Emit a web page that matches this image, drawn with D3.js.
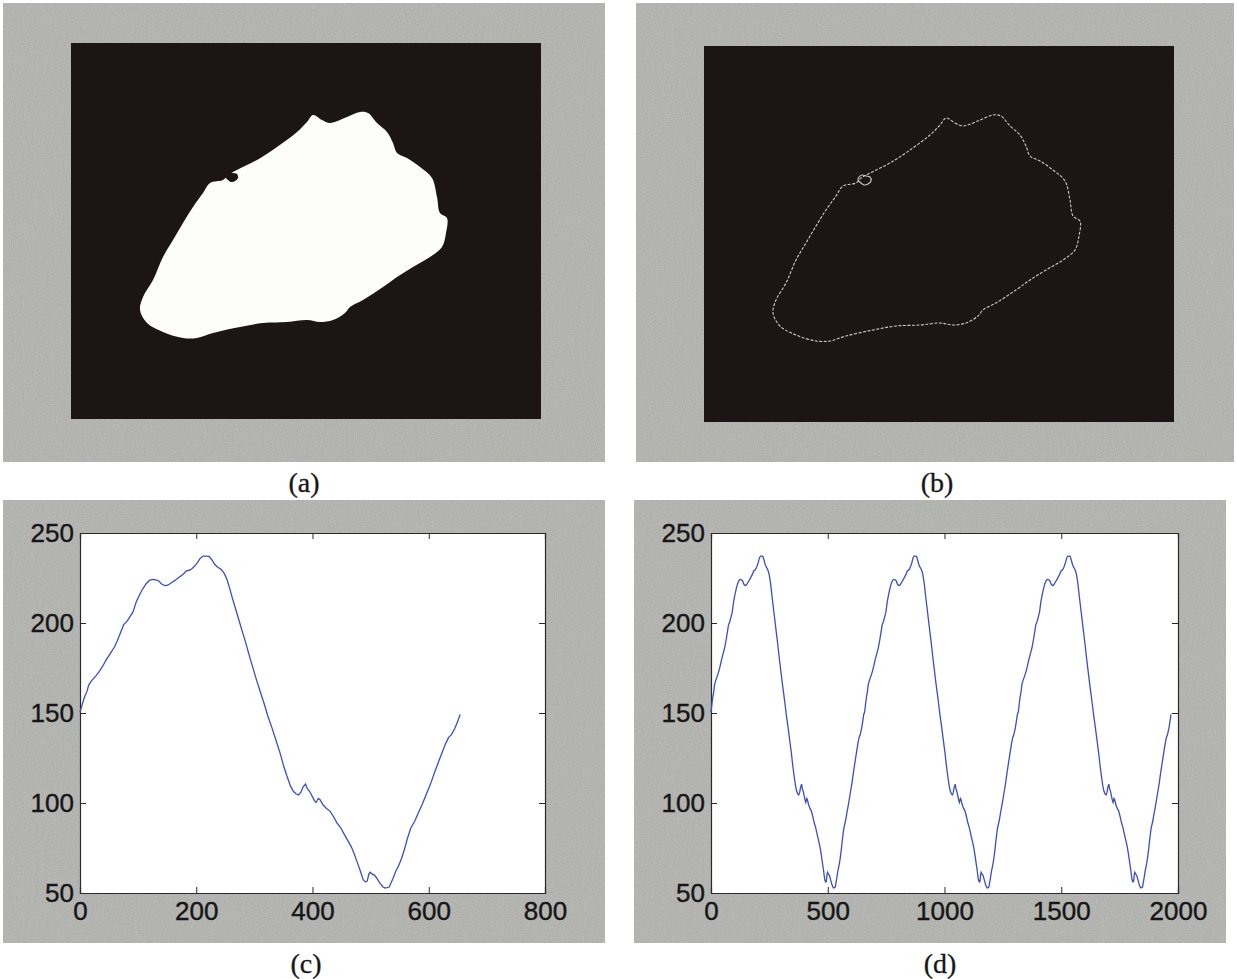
<!doctype html>
<html lang="en">
<head>
<meta charset="utf-8">
<title>Contour and centroid distance signature</title>
<script src="https://cdn.jsdelivr.net/npm/d3@7"></script>
<style>
	body{
		margin:0px;
		padding:0px;
		background:#fff;
	}
	.tick text{
		font-family:"Liberation Sans", Arial, sans-serif;
		font-size:26px;
		fill:#161616;
		stroke:#161616;
		stroke-width:0.4px;
	}
	.caption{
		font-family:"Liberation Serif", "Times New Roman", serif;
		font-size:28px;
		fill:#161616;
		stroke:#161616;
		stroke-width:0.3px;
	}
</style>
</head>
<body>
<svg id="fig"></svg>
<script>
// boundary of the segmented object, pixel coords inside the 470x376 image
var contourX = [242,251,259,276,289,297,306,316,322,326,336,349,361,366,369,376,375,371,359,342,326,312,292,279,274,262,249,236,216,192,169,142,126,112,92,76,69,72,82,92,102,112,122,132,139,152,157,166,186,206,226,236];
var contourY = [72,77,80,74,69,70,80,89,100,110,115,124,135,154,170,175,190,204,214,224,234,244,257,264,270,277,279,277,279,280,284,290,295,295,289,280,267,254,237,214,197,180,164,150,140,137,132,127,117,104,89,79];
// small hole near the upper left edge
var holeX = [155,158,162,166,167,164,160,157,154];
var holeY = [131,129,130,131,135,138,139,137,134];

// centroid distance signature (contour index -> distance)
var sigIdx = [0,4,8,12,15,20,27,33,39,45,52,59,64,69,75,81,86,91,97,103,108,114,120,126,130,135,141,146,151,158,164,171,177,183,188,192,197,202,207,212,216,222,227,232,237,242,246,249,253,256,262,268,274,280,286,292,298,304,311,317,323,330,338,344,350,356,362,367,372,376,380,384,388,391,395,399,403,406,410,413,418,424,430,436,442,448,454,460,467,472,477,482,487,491,494,497,499,503,507,511,516,521,525,528,532,535,539,543,548,553,558,563,569,576,582,589,596,603,610,617,623,629,634,639,645,650,654];
var sigVal = [150.5,155,159,162,165.5,168,170.5,173,176,179.5,183,186.5,190,194,199,201,203.5,206,212,216,219,222,223.8,224.2,224,223.5,221.5,220.8,221,222.5,223.8,225.5,227,229,229.3,230,231.5,233.5,236,237.2,237.2,237,235,232.5,231,230,228.5,227,224,221,214,207.5,201,194.5,188,181,174.5,168,161,155,148.5,142,134,128,121,115,109.5,106.5,105,104.5,106,109,110.5,108,106.5,104,101.5,100.3,102.5,101.8,99,97,95.5,92.5,89,86.5,83,79.5,75.5,71.5,67,62.5,57.5,56.2,56.5,60.5,61.5,60.5,59.8,58,55.5,53.5,52.8,53,53.3,55.5,58.5,62,65,69,74,80,86,90,94.5,99.5,105,110.5,117,123,128,133,136.3,138,141.5,145.5,149.2];
var signatureLength = 658;
var copies = 3;

var xTicksC = [0,200,400,600,800];
var xTicksD = [0,500,1000,1500,2000];
var yTicks = [50,100,150,200,250];
var captions = ["(a)","(b)","(c)","(d)"];

var W = 1237, H = 979;
var grey = "#a9aaa6", dark = "#1b1615", lineBlue = "#3c4ec2";

var svg = d3.select("#fig").attr("width",W).attr("height",H);
svg.append("rect").attr("width",W).attr("height",H).attr("fill","#fff");

// grainy scan look for the grey frames
var defs = svg.append("defs");
var grain = defs.append("filter").attr("id","grain").attr("x",0).attr("y",0).attr("width",1).attr("height",1);
grain.append("feTurbulence").attr("type","fractalNoise").attr("baseFrequency",0.9).attr("numOctaves",2).attr("seed",3).attr("result","noise");
grain.append("feColorMatrix").attr("in","noise").attr("type","matrix")
	.attr("values","0 0 0 0 0.62  0 0 0 0 0.63  0 0 0 0 0.61  0.35 0.35 0.35 0 -0.28").attr("result","tint");
grain.append("feComposite").attr("in","tint").attr("in2","SourceGraphic").attr("operator","atop");

// panel frames
var frames = [
	{x:3,y:3,w:602,h:459},
	{x:636,y:3,w:598,h:459},
	{x:3,y:500,w:602,h:443},
	{x:634,y:500,w:592,h:443}
];
frames.forEach(function(f){
	svg.append("rect").attr("x",f.x).attr("y",f.y).attr("width",f.w).attr("height",f.h).attr("fill",grey).attr("filter","url(#grain)");
});

//image panels (a) and (b)
function imagePanel(left,top,filled){
	var g = svg.append("g");
	var sx = d3.scaleLinear().domain([0,470]).range([left,left+470]);
	var sy = d3.scaleLinear().domain([0,376]).range([top,top+376]);
	g.append("rect").attr("x",sx(0)).attr("y",sy(0)).attr("width",sx(470)-sx(0)).attr("height",sy(376)-sy(0)).attr("fill",dark);
	var pts = contourX.map(function(d,i){return [d,contourY[i]];});
	var hole = holeX.map(function(d,i){return [d,holeY[i]];});
	var line = d3.line().x(function(d){return sx(d[0]);}).y(function(d){return sy(d[1]);}).curve(d3.curveCatmullRomClosed.alpha(0.5));
	if(filled){
		g.append("path").attr("d",line(pts)).attr("fill","#fdfdfb");
		g.append("path").attr("d",line(hole)).attr("fill",dark);
	}else{
		g.append("path").attr("d",line(pts)).attr("fill","none").attr("stroke","#c9cac2").attr("stroke-width",1.1).attr("stroke-dasharray","3,1.5");
		g.append("path").attr("d",line(hole)).attr("fill","none").attr("stroke","#c9cac2").attr("stroke-width",1.1);
	}
}
imagePanel(71,43,true);
imagePanel(704,46,false);

//signature plots (c) and (d)
function plotPanel(left,right,top,bottom,xmax,xticks,xs,ys){
	var g = svg.append("g");
	var x = d3.scaleLinear().domain([0,xmax]).range([left,right]);
	var y = d3.scaleLinear().domain([50,250]).range([bottom,top]);
	g.append("rect").attr("x",left).attr("y",top).attr("width",right-left).attr("height",bottom-top).attr("fill","#fff");

	g.append("g").attr("transform","translate(0,"+bottom+")")
		.call(d3.axisBottom(x).tickValues(xticks).tickFormat(d3.format("d")).tickSize(-6).tickPadding(9));
	g.append("g").attr("transform","translate(0,"+top+")")
		.call(d3.axisTop(x).tickValues(xticks).tickSize(-6).tickFormat(""));
	g.append("g").attr("transform","translate("+left+",0)")
		.call(d3.axisLeft(y).tickValues(yTicks).tickSize(-6).tickPadding(6));
	g.append("g").attr("transform","translate("+right+",0)")
		.call(d3.axisRight(y).tickValues(yTicks).tickSize(-6).tickFormat(""));
	g.selectAll(".domain").attr("stroke","#2a2a2a").attr("stroke-width",1.2);
	g.selectAll(".tick line").attr("stroke","#2a2a2a");

	var path = d3.line().x(function(d){return x(d[0]);}).y(function(d){return y(d[1]);});
	var pts = xs.map(function(d,i){return [d,ys[i]];});
	g.append("path").attr("d",path(pts)).attr("fill","none").attr("stroke",lineBlue).attr("stroke-width",1.3);
}

plotPanel(80,545,533,893,800,xTicksC,sigIdx,sigVal);

var repIdx = [], repVal = [];
for(var k=0;k<copies;k++){
	for(var i=0;i<sigIdx.length;i++){
		repIdx.push(sigIdx[i]+k*signatureLength);
		repVal.push(sigVal[i]);
	}
}
plotPanel(711,1178,533,893,2000,xTicksD,repIdx,repVal);

//captions
var capPos = [[304,492],[937,492],[306,973],[940,973]];
captions.forEach(function(c,i){
	svg.append("text").attr("class","caption").attr("x",capPos[i][0]).attr("y",capPos[i][1])
		.attr("text-anchor","middle").text(c);
});
</script>
</body>
</html>
